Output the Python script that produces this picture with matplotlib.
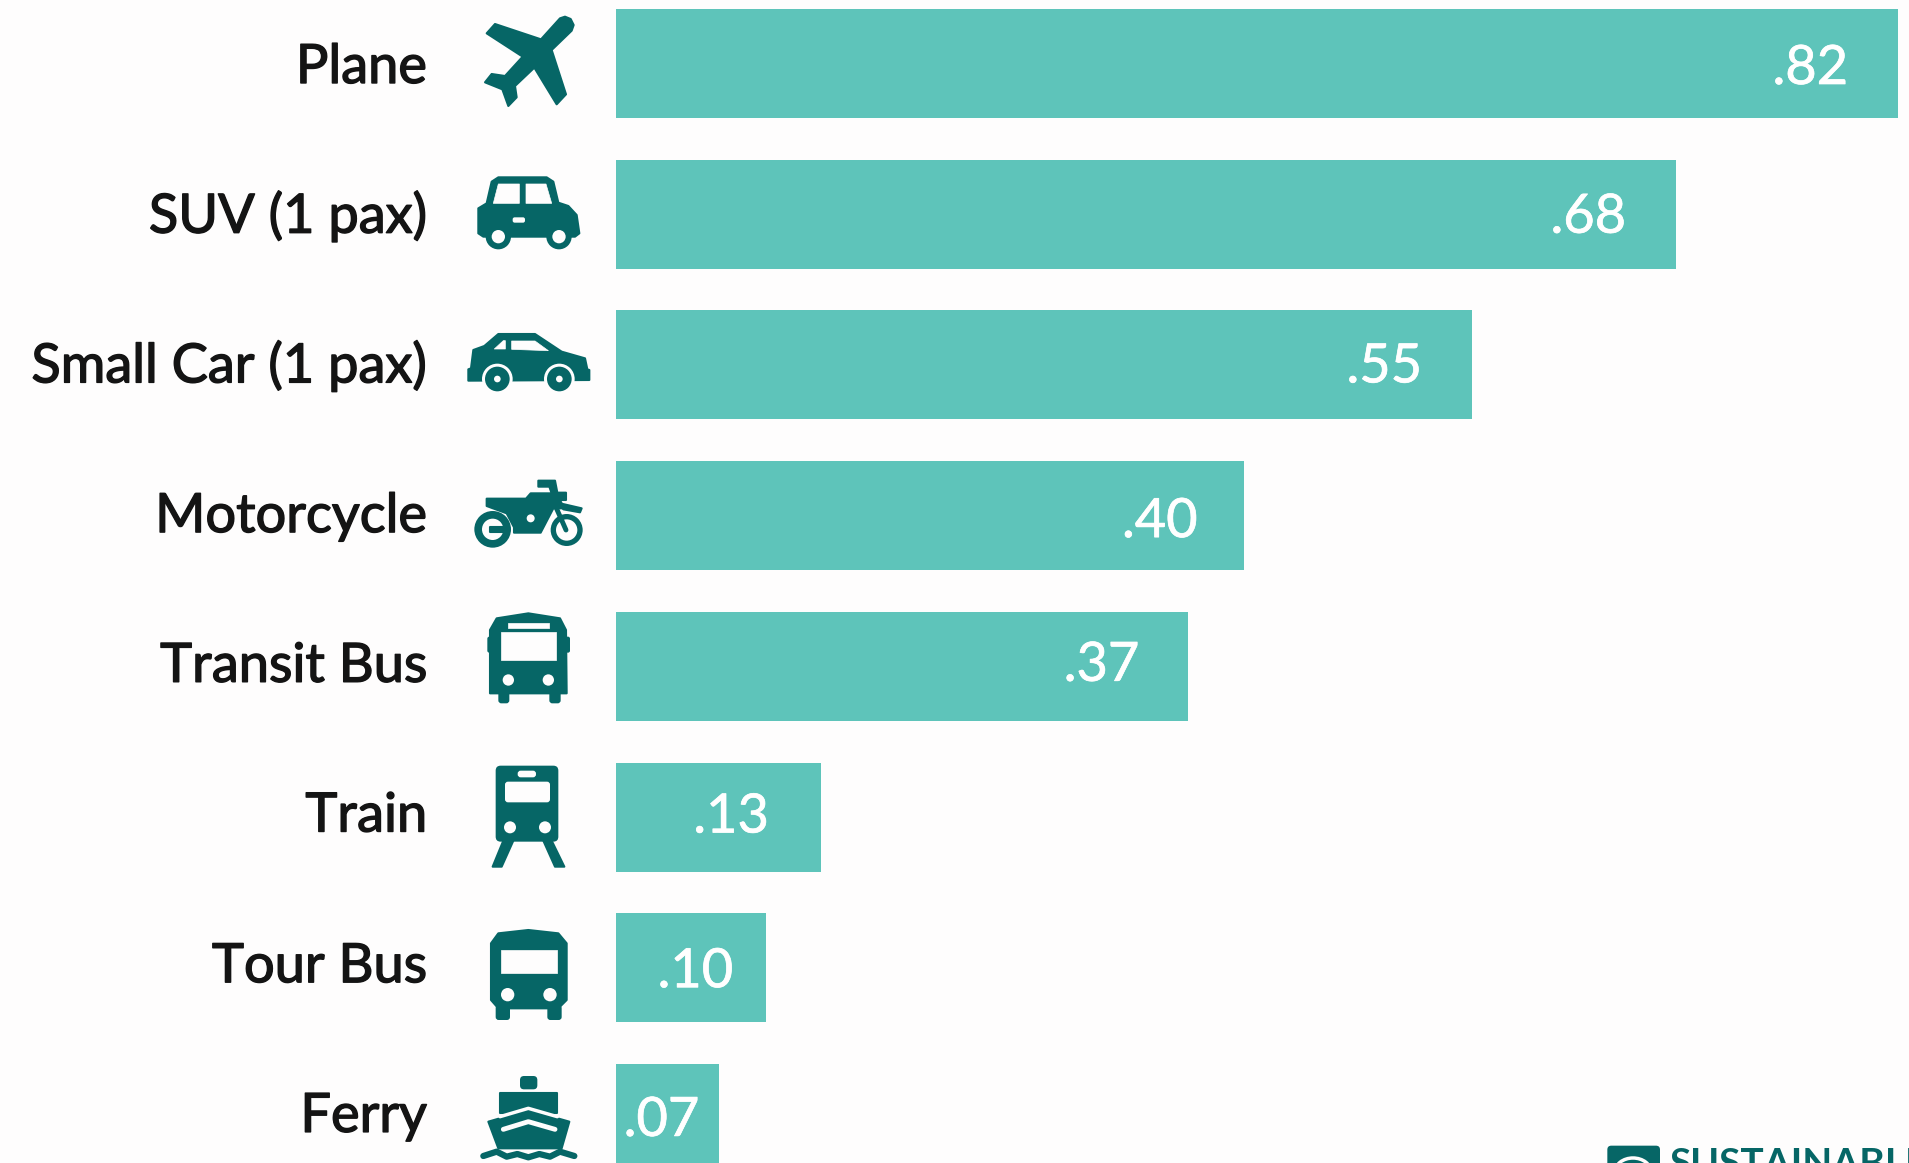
import matplotlib
matplotlib.use('Agg')
import matplotlib.pyplot as plt
import matplotlib.patheffects as pe
from matplotlib.patches import Polygon, Circle, FancyBboxPatch, Arc

# Data
modes = ['Plane', 'SUV (1 pax)', 'Small Car (1 pax)', 'Motorcycle',
         'Transit Bus', 'Train', 'Tour Bus', 'Ferry']
values = [0.82, 0.678, 0.5475, 0.402, 0.366, 0.131, 0.096, 0.066]
value_labels = ['.82', '.68', '.55', '.40', '.37', '.13', '.10', '.07']
label_inset = [50, 50, 50, 47, 49, 52, 33, 20]
label_shift = [2, 0, -1, 3, -4, -3, 1, -1]
name_shift = [1, 0, -1, -2, -3, -4, -4, -5]

BAR = '#5EC4BA'
DARK = '#066666'
BG = '#FEFDFD'
FONT = 'Lato'

W, H = 1909, 1163
fig = plt.figure(figsize=(W / 100, H / 100), dpi=100, facecolor=BG)

# bar axes fills the figure, x=0 sits at pixel 616, .82 at pixel 1898
ax = fig.add_axes([0, 0, 1, 1])
ax.set_facecolor(BG)
scale = (1898 - 616) / 0.82
ax.set_xlim(-616 / scale, (W - 616) / scale)
ax.set_ylim((H - 63.5) / 150.7, -63.5 / 150.7)
ax.axis('off')

pos = list(range(len(modes)))
ax.barh(pos, values, height=109 / 150.7, color=BAR, linewidth=0)

for i in pos:
    t = ax.annotate(modes[i], xy=(0, i), xytext=(-189, -18.5 - name_shift[i]), textcoords='offset pixels',
                    ha='right', va='baseline', fontsize=39, family=FONT, color='#141414')
    t.set_path_effects([pe.withStroke(linewidth=1.0, foreground='#141414')])
    v = ax.annotate(value_labels[i], xy=(values[i], i),
                    xytext=(-label_inset[i], -18.5 - label_shift[i]), textcoords='offset pixels',
                    ha='right', va='baseline', fontsize=39, family=FONT, color='white')
    v.set_path_effects([pe.withStroke(linewidth=0.5, foreground='white')])

# second axes in pixel coordinates for the icons and the logo
ov = fig.add_axes([0, 0, 1, 1])
ov.set_xlim(0, W)
ov.set_ylim(H, 0)
ov.axis('off')
ov.patch.set_alpha(0)


def poly(pts, ox, oy, color=DARK, lw=1.5):
    # pts were measured on 3x crops starting at ox, oy
    xy = [(ox + x / 3, oy + y / 3) for x, y in pts]
    ov.add_patch(Polygon(xy, closed=True, facecolor=color, edgecolor=color,
                         linewidth=lw, joinstyle='round'))


def circ(x, y, r, ox, oy, color=DARK):
    ov.add_patch(Circle((ox + x / 3, oy + y / 3), r / 3, facecolor=color, linewidth=0))


def box(x0, y0, x1, y1, ox, oy, color=DARK, round_r=4):
    ov.add_patch(FancyBboxPatch((ox + x0 / 3 + round_r, oy + y0 / 3 + round_r),
                                (x1 - x0) / 3 - 2 * round_r, (y1 - y0) / 3 - 2 * round_r,
                                boxstyle='round,pad=%d,rounding_size=%d' % (round_r, round_r),
                                facecolor=color, linewidth=0))


def line(pts, ox, oy, color, lw):
    ov.plot([ox + p[0] / 3 for p in pts], [oy + p[1] / 3 for p in pts], color=color,
            lw=lw, solid_capstyle='round', solid_joinstyle='round')


# plane
poly([(360, 55), (375, 50), (392, 57), (401, 75), (395, 92), (335, 150), (378, 283),
      (350, 313), (283, 203), (225, 258), (230, 292), (205, 318), (187, 268), (135, 247),
      (155, 222), (195, 228), (248, 170), (140, 100), (165, 72), (303, 118)], 440, 0)

# suv
poly([(140, 610), (155, 545), (175, 532), (320, 532), (340, 545), (355, 608), (385, 618),
      (410, 645), (418, 700), (405, 710), (130, 710), (115, 700), (115, 625)], 440, 0)
poly([(160, 610), (175, 552), (238, 552), (238, 610)], 440, 0, BG, 0.5)
poly([(258, 552), (318, 552), (335, 610), (258, 610)], 440, 0, BG, 0.5)
box(218, 652, 255, 668, 440, 0, BG, 2)
for cx in (175, 357):
    circ(cx, 710, 38, 440, 0)
    circ(cx, 710, 20, 440, 0, BG)

# small car
poly([(100, 120), (133, 108), (175, 72), (285, 72), (365, 125), (435, 145), (442, 178),
      (448, 180), (448, 210), (85, 212), (85, 178), (93, 175)], 440, 310)
poly([(163, 117), (190, 92), (196, 92), (196, 117)], 440, 310, BG, 0.5)
poly([(215, 93), (285, 93), (325, 122), (215, 118)], 440, 310, BG, 0.5)
for cx in (172, 358):
    circ(cx, 207, 46, 440, 310, BG)
    circ(cx, 207, 37, 440, 310)
    circ(cx, 207, 10, 440, 310, BG)

# motorcycle
circ(158, 238, 55, 440, 450)
circ(158, 238, 32, 440, 450, BG)
poly([(150, 232), (190, 232), (190, 245), (150, 245)], 440, 450)
circ(380, 240, 48, 440, 450)
circ(380, 240, 32, 440, 450, BG)
poly([(140, 146), (258, 146), (272, 130), (335, 130), (328, 110), (295, 110), (295, 92),
      (345, 92), (352, 128), (378, 128), (378, 150), (360, 150), (372, 175), (340, 175),
      (302, 248), (222, 248), (222, 232), (200, 190), (140, 168)], 440, 450)
poly([(360, 160), (425, 175), (420, 187), (370, 178)], 440, 450)
line([(345, 165), (378, 240)], 440, 450, DARK, 3.5)
circ(272, 205, 12, 440, 450, BG)

# transit bus
poly([(150, 540), (170, 505), (265, 490), (360, 505), (378, 540), (380, 730), (150, 730)], 440, 450)
box(142, 560, 160, 608, 440, 450, DARK, 2)
box(372, 560, 390, 608, 440, 450, DARK, 2)
box(175, 720, 208, 760, 440, 450, DARK, 3)
box(328, 720, 362, 760, 440, 450, DARK, 3)
poly([(183, 545), (348, 545), (348, 630), (183, 630)], 440, 450, BG, 0.5)
poly([(205, 518), (328, 518), (328, 535), (205, 535)], 440, 450, BG, 0.5)
circ(205, 690, 17, 440, 450, BG)
circ(325, 690, 17, 440, 450, BG)

# train
box(167, 47, 355, 275, 440, 750, DARK, 5)
box(233, 62, 288, 82, 440, 750, BG, 3)
box(195, 95, 330, 157, 440, 750, BG, 3)
circ(210, 232, 18, 440, 750, BG)
circ(315, 232, 18, 440, 750, BG)
poly([(190, 272), (220, 272), (185, 350), (158, 350)], 440, 750)
poly([(310, 272), (335, 272), (373, 350), (345, 350)], 440, 750)

# tour bus
poly([(153, 130), (175, 100), (265, 90), (355, 100), (380, 130), (380, 300), (355, 325),
      (175, 325), (153, 300)], 440, 900)
box(167, 315, 210, 360, 440, 900, DARK, 3)
box(322, 315, 365, 360, 440, 900, DARK, 3)
poly([(182, 150), (350, 150), (350, 218), (182, 218)], 440, 900, BG, 0.5)
circ(203, 284, 20, 440, 900, BG)
circ(330, 284, 20, 440, 900, BG)

# ferry
box(240, 528, 292, 568, 440, 900, DARK, 4)
poly([(180, 580), (352, 580), (352, 640), (180, 640)], 440, 900)
poly([(145, 665), (265, 630), (388, 665), (365, 745), (175, 745)], 440, 900)
line([(180, 650), (265, 625), (352, 650)], 440, 900, BG, 2.5)
line([(190, 688), (265, 665), (345, 688)], 440, 900, BG, 3.5)
line([(130, 768), (170, 755), (200, 770), (232, 762), (265, 772), (298, 762), (330, 770),
      (360, 755), (403, 768)], 440, 900, DARK, 4.5)

# logo, cut by the bottom edge like the original
box(142, 137, 300, 300, 1560, 1100, DARK, 4)
ov.add_patch(Arc((1633, 1172), 36, 28, theta1=180, theta2=360, color=BG, lw=2.5))
ov.text(1669, 1176, 'SUSTAINABLE', fontsize=28, family=FONT, fontweight='bold', color=DARK,
        ha='left', va='baseline')

fig.savefig('out.png', dpi=100, facecolor=BG)
